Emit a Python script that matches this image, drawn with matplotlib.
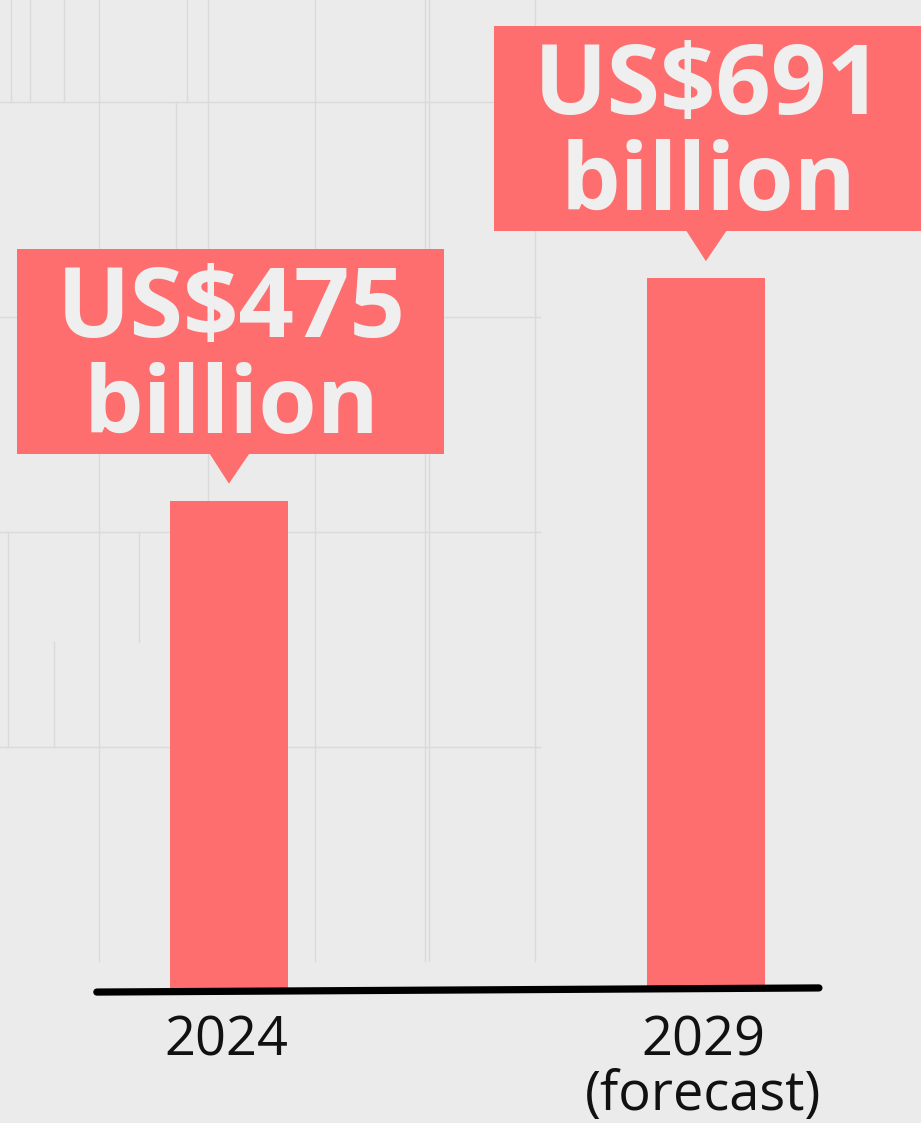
import matplotlib.pyplot as plt
from matplotlib.patches import Polygon, Rectangle

# data
years = ['2024', '2029\n(forecast)']
values = [475, 691]
callouts = ['US$475\nbillion', 'US$691\nbillion']

W, H = 921, 1123
BAR_COLOR = '#ff6e6e'
TEXT_LIGHT = '#efefef'
FONT = ['Open Sans', 'DejaVu Sans']

fig = plt.figure(figsize=(W / 100, H / 100), dpi=100)
fig.patch.set_facecolor('#ebebeb')

# faint decorative grid in the background (figure pixels, from top)
bg = fig.add_axes([0, 0, 1, 1])
bg.set_xlim(0, W)
bg.set_ylim(H, 0)
bg.axis('off')
grid_col = '#dadada'
for y in [102, 317, 532, 747]:
    bg.plot([0, 540], [y, y], color=grid_col, lw=1)
for x in [99, 208, 315, 425, 535]:
    bg.plot([x, x], [0, 961], color=grid_col, lw=1)
for x, y0, y1 in [(11, 0, 102), (30, 0, 102), (64, 0, 102), (187, 0, 102),
                  (176, 102, 317), (429, 0, 961), (8, 532, 747),
                  (139, 532, 642), (54, 642, 747)]:
    bg.plot([x, x], [y0, y1], color=grid_col, lw=1)

# main axes: bar baseline sits at pixel 990 from top
base_frac = (H - 990) / H
ax = fig.add_axes([0, base_frac, 1, 1 - base_frac])
ax.patch.set_alpha(0)
ax.set_xlim(-0.48, 1.451)
ax.set_ylim(0, 961)
ax.axis('off')

x = list(range(len(values)))
ax.bar(x, values, width=0.247, color=BAR_COLOR, zorder=3)

# baseline
ax.plot([-0.277, 1.237], [-2.0, 2.0], color='black', lw=5.2,
        solid_capstyle='round', clip_on=False, zorder=4)

# callouts in figure pixels
fig.canvas.draw()
for xi, v, label in zip(x, values, callouts):
    px, py = ax.transData.transform((xi, v))
    cx = px + 1.5
    tip = py + 17
    tri_top = tip + 30
    f = lambda a, b: (a / W, b / H)
    fig.patches.append(Polygon([f(px - 20, tri_top + 1), f(px + 21, tri_top + 1), f(px, tip)],
                               closed=True, transform=fig.transFigure,
                               facecolor=BAR_COLOR, edgecolor='none', zorder=5))
    fig.patches.append(Rectangle(f(cx - 213.5, tri_top), 427 / W, 205 / H,
                                 transform=fig.transFigure, facecolor=BAR_COLOR,
                                 edgecolor='none', zorder=5))
    line1, line2 = label.split('\n')
    fig.text((cx + 1) / W, (tri_top + 117) / H, line1, ha='center', va='baseline',
             fontsize=70, fontweight='bold', family=FONT, color=TEXT_LIGHT, zorder=6)
    fig.text((cx + 1) / W, (tri_top + 21) / H, line2, ha='center', va='baseline',
             fontsize=68, fontweight='bold', family=FONT, color=TEXT_LIGHT, zorder=6)

# category labels
for xi, lab in zip(x, years):
    px, _ = ax.transData.transform((xi, 0))
    for k, part in enumerate(lab.split('\n')):
        fig.text((px - 3) / W, (H - 1055 - 55 * k) / H, part, ha='center', va='baseline',
                 fontsize=39, family=FONT, color='#111111')

fig.savefig('out.png', dpi=100, facecolor=fig.get_facecolor())
